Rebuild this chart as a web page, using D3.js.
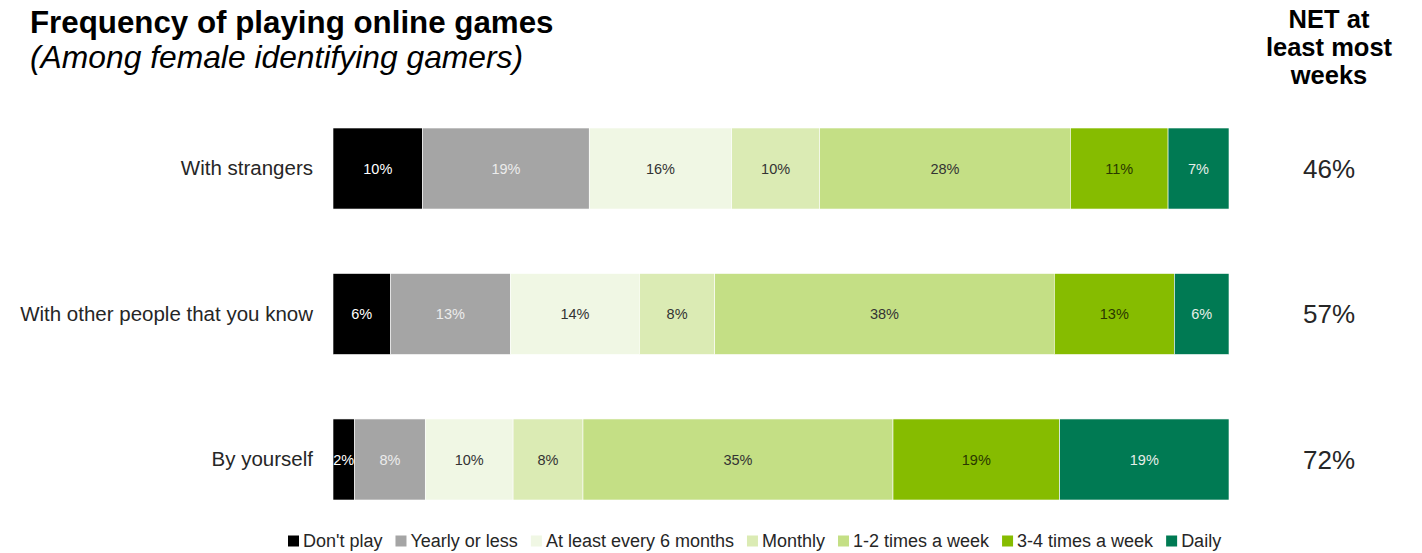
<!DOCTYPE html>
<html>
<head>
<meta charset="utf-8">
<script src="https://cdn.jsdelivr.net/npm/d3@7"></script>
<style>
  html, body { margin: 0; padding: 0; background: #fff; }
  svg { display: block; font-family: "Liberation Sans", Arial, sans-serif; }
</style>
</head>
<body>
<svg id="chart" width="1422" height="553"></svg>
<script>
// Survey rows and answer frequencies (percent of respondents)
const categories = ["With strangers", "With other people that you know", "By yourself"];
const series = ["Don't play", "Yearly or less", "At least every 6 months", "Monthly",
                "1-2 times a week", "3-4 times a week", "Daily"];
const dontPlay      = [10.0, 6.4, 2.4];
const yearlyOrLess  = [18.6, 13.4, 7.9];
const every6Months  = [15.9, 14.4, 9.8];
const monthly       = [9.8, 8.4, 7.8];
const weekly12      = [28.0, 37.9, 34.6];
const weekly34      = [10.9, 13.4, 18.6];
const daily         = [6.8, 6.1, 18.9];
// "Most weeks" = 1-2 times a week + 3-4 times a week + Daily
const netSeries = ["1-2 times a week", "3-4 times a week", "Daily"];

const valuesBySeries = [dontPlay, yearlyOrLess, every6Months, monthly, weekly12, weekly34, daily];
const rows = categories.map((c, i) => {
  const r = { category: c };
  series.forEach((s, j) => r[s] = valuesBySeries[j][i]);
  return r;
});

const colors = ["#000000", "#a5a5a5", "#f0f7e4", "#dbebb4", "#c4df85", "#86bc00", "#007a53"];
const labelColors = ["#ffffff", "#ececec", "#333333", "#333333", "#333333", "#2a3800", "#e6eee9"];

const svg = d3.select("#chart");

const x = d3.scaleLinear().domain([0, 100]).range([333, 1229]);
const y = d3.scaleBand().domain(categories).range([128, 500]).paddingInner(0.443).paddingOuter(0);
const color = d3.scaleOrdinal().domain(series).range(colors);
const labelColor = d3.scaleOrdinal().domain(series).range(labelColors);
const pct = d3.format(".0%");

const stacked = d3.stack().keys(series)(rows);

// Stacked bars
const layers = svg.append("g").selectAll("g")
  .data(stacked).join("g")
  .attr("fill", d => color(d.key));

layers.selectAll("rect")
  .data(d => d.map(v => Object.assign(v, { key: d.key })))
  .join("rect")
  .attr("x", d => x(d[0]))
  .attr("y", d => y(d.data.category))
  .attr("width", d => x(d[1]) - x(d[0]))
  .attr("height", y.bandwidth())
  .attr("stroke", "#ffffff")
  .attr("stroke-width", 0.6);

// Segment value labels
layers.selectAll("text")
  .data(d => d)
  .join("text")
  .attr("x", d => (x(d[0]) + x(d[1])) / 2)
  .attr("y", d => y(d.data.category) + y.bandwidth() / 2)
  .attr("dy", "0.35em")
  .attr("text-anchor", "middle")
  .attr("font-size", 14.5)
  .attr("fill", d => labelColor(d.key))
  .text(d => pct(Math.round(d[1] - d[0]) / 100));

// Category axis labels
const yAxis = d3.axisLeft(y).tickSize(0).tickPadding(20);
const yg = svg.append("g").attr("transform", `translate(${x(0)},0)`).call(yAxis);
yg.select(".domain").remove();
yg.selectAll("text")
  .attr("font-family", "Liberation Sans, Arial, sans-serif")
  .attr("font-size", 20.5)
  .attr("fill", "#262626");

// NET column
svg.append("g").selectAll("text")
  .data(rows).join("text")
  .attr("x", 1329)
  .attr("y", d => y(d.category) + y.bandwidth() / 2)
  .attr("dy", "0.35em")
  .attr("text-anchor", "middle")
  .attr("font-size", 26)
  .attr("fill", "#262626")
  .text(d => pct(Math.round(d3.sum(netSeries, s => d[s])) / 100));

const netHead = svg.append("text")
  .attr("x", 1329).attr("y", 28)
  .attr("text-anchor", "middle")
  .attr("font-size", 25.5).attr("font-weight", "bold").attr("fill", "#000");
["NET at", "least most", "weeks"].forEach((t, i) =>
  netHead.append("tspan").attr("x", 1329).attr("dy", i === 0 ? 0 : 28).text(t));

// Title
svg.append("text").attr("x", 30).attr("y", 33)
  .attr("font-size", 31.3).attr("font-weight", "bold").attr("fill", "#000")
  .text("Frequency of playing online games");
svg.append("text").attr("x", 30).attr("y", 68)
  .attr("font-size", 31.8).attr("font-style", "italic").attr("fill", "#000")
  .text("(Among female identifying gamers)");

// Legend
const legend = svg.append("g").attr("transform", "translate(288,541)");
let lx = 0;
series.forEach(s => {
  const item = legend.append("g").attr("transform", `translate(${lx},0)`);
  item.append("rect").attr("x", 0).attr("y", -5.5).attr("width", 11).attr("height", 11)
    .attr("fill", color(s));
  const t = item.append("text").attr("x", 15).attr("dy", "0.35em")
    .attr("font-size", 18).attr("fill", "#262626").text(s);
  lx += 15 + t.node().getComputedTextLength() + 13;
});
</script>
</body>
</html>
